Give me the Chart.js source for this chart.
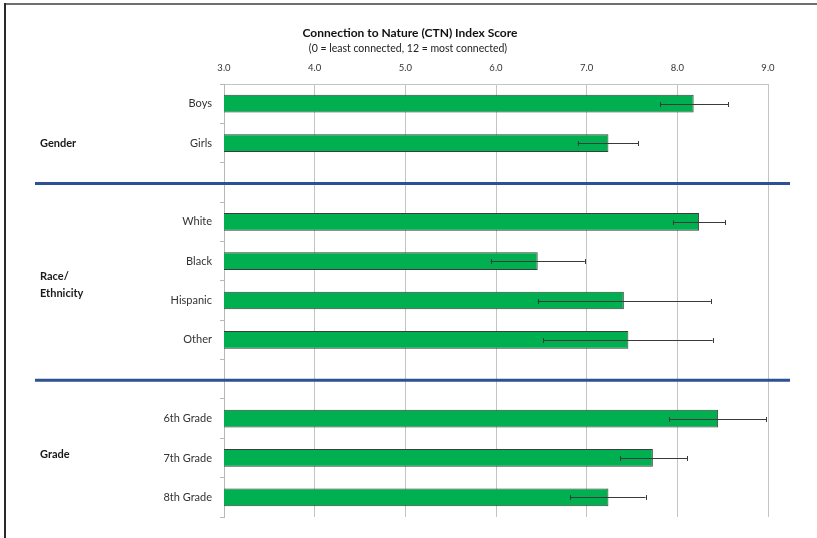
<!DOCTYPE html>
<html>
<head>
<meta charset="utf-8">
<script src="https://cdn.jsdelivr.net/npm/chart.js@4"></script>
<style>
html,body{margin:0;padding:0;background:#fff;}
#wrap{width:817px;height:538px;position:relative;}
</style>
</head>
<body>
<div id="wrap"><canvas id="c" width="817" height="538"></canvas></div>
<script>
// ---- data ----
const categories = ['Boys', 'Girls', '', 'White', 'Black', 'Hispanic', 'Other', '', '6th Grade', '7th Grade', '8th Grade'];
const means      = [8.18, 7.24, null, 8.24, 6.46, 7.41, 7.46, null, 8.45, 7.73, 7.24];
const errLow     = [7.81, 6.90, null, 7.95, 5.94, 6.46, 6.52, null, 7.91, 7.37, 6.82];
const errHigh    = [8.56, 7.57, null, 8.53, 6.98, 8.37, 8.39, null, 8.98, 8.11, 7.65];
const xTicks     = [3, 4, 5, 6, 7, 8, 9];
const titleText    = 'Connection to Nature (CTN) Index Score';
const subtitleText = '(0 = least connected, 12 = most connected)';
const groupNames   = [['Gender'], ['Race/', 'Ethnicity'], ['Grade']];
const groupAnchors = [1, 4.6, 8.9];     // category index where each group label sits
const separatorAt  = [2, 7];            // blank categories holding the blue rules

const FONT = 'Lato, "Open Sans", sans-serif';

const framePlugin = {
  id: 'frame',
  beforeDraw(chart) {
    const ctx = chart.ctx;
    ctx.save();
    ctx.fillStyle = '#fff';
    ctx.fillRect(0, 0, chart.width, chart.height);
    ctx.fillStyle = '#6e6e6e';
    ctx.fillRect(4, 3, chart.width - 4, 2);
    ctx.fillStyle = '#2a2a2a';
    ctx.fillRect(4, 3, 2, chart.height - 3);
    // titles
    ctx.textAlign = 'center';
    ctx.textBaseline = 'middle';
    ctx.fillStyle = '#111';
    ctx.font = 'bold 12px ' + FONT;
    ctx.fillText(titleText, 410, 33);
    ctx.fillStyle = '#222';
    ctx.font = '10.5px ' + FONT;
    ctx.fillText(subtitleText, 408, 48.5);
    ctx.restore();
  }
};

const errorBarPlugin = {
  id: 'errorBars',
  afterDatasetsDraw(chart) {
    const ctx = chart.ctx, x = chart.scales.x, y = chart.scales.y;
    ctx.save();
    ctx.strokeStyle = '#3a3a3a';
    ctx.lineWidth = 1;
    means.forEach((m, i) => {
      if (m === null) return;
      const yc = Math.round(y.getPixelForValue(i)) + 0.5;
      const x1 = x.getPixelForValue(errLow[i]);
      const x2 = x.getPixelForValue(errHigh[i]);
      ctx.beginPath();
      ctx.moveTo(x1, yc); ctx.lineTo(x2, yc);
      ctx.moveTo(Math.round(x1) + 0.5, yc - 2.5); ctx.lineTo(Math.round(x1) + 0.5, yc + 2.5);
      ctx.moveTo(Math.round(x2) + 0.5, yc - 2.5); ctx.lineTo(Math.round(x2) + 0.5, yc + 2.5);
      ctx.stroke();
    });
    ctx.restore();
  }
};

const groupPlugin = {
  id: 'groups',
  afterDraw(chart) {
    const ctx = chart.ctx, y = chart.scales.y;
    ctx.save();
    // blue separators
    ctx.strokeStyle = '#2d5192';
    ctx.lineWidth = 3;
    separatorAt.forEach(i => {
      const yy = y.getPixelForValue(i) + 1;
      ctx.beginPath();
      ctx.moveTo(35, yy); ctx.lineTo(790, yy);
      ctx.stroke();
    });
    // group labels
    ctx.fillStyle = '#1a1a1a';
    ctx.font = 'bold 11px ' + FONT;
    ctx.textAlign = 'left';
    ctx.textBaseline = 'middle';
    groupNames.forEach((lines, g) => {
      const a = groupAnchors[g];
      const lo = Math.floor(a), hi = Math.ceil(a);
      const py = y.getPixelForValue(lo) + (y.getPixelForValue(hi) - y.getPixelForValue(lo)) * (a - lo);
      const lh = 17;
      const start = py - (lines.length - 1) * lh / 2;
      lines.forEach((t, k) => ctx.fillText(t, 40, start + k * lh));
    });
    ctx.restore();
  }
};

new Chart(document.getElementById('c'), {
  type: 'bar',
  data: {
    labels: categories,
    datasets: [{
      data: means,
      backgroundColor: '#00b050',
      borderColor: '#3c3c3c',
      borderWidth: 1,
      borderSkipped: false,
      barPercentage: 0.45,
      categoryPercentage: 1
    }]
  },
  options: {
    indexAxis: 'y',
    responsive: false,
    animation: false,
    layout: { padding: { left: 0, right: 49, top: 56, bottom: 21 } },
    plugins: {
      legend: { display: false },
      tooltip: { enabled: false }
    },
    scales: {
      x: {
        position: 'top',
        min: 3, max: 9,
        afterBuildTicks(s) { s.ticks = xTicks.map(v => ({ value: v })); },
        afterFit(s) { s.height = 28; },
        ticks: {
          color: '#333',
          font: { family: FONT, size: 9.5 },
          padding: 10,
          callback: v => Number(v).toFixed(1)
        },
        grid: { color: '#c4c4c4', lineWidth: 1, drawTicks: false },
        border: { color: '#c4c4c4', width: 1 }
      },
      y: {
        afterFit(s) { s.width = 224; },
        ticks: {
          color: '#333',
          font: { family: FONT, size: 11 },
          padding: 8
        },
        grid: { offset: true, drawOnChartArea: false, drawTicks: true, tickLength: 4, color: '#b8b8b8' },
        border: { color: '#b8b8b8', width: 1 }
      }
    }
  },
  plugins: [framePlugin, errorBarPlugin, groupPlugin]
});
</script>
</body>
</html>
